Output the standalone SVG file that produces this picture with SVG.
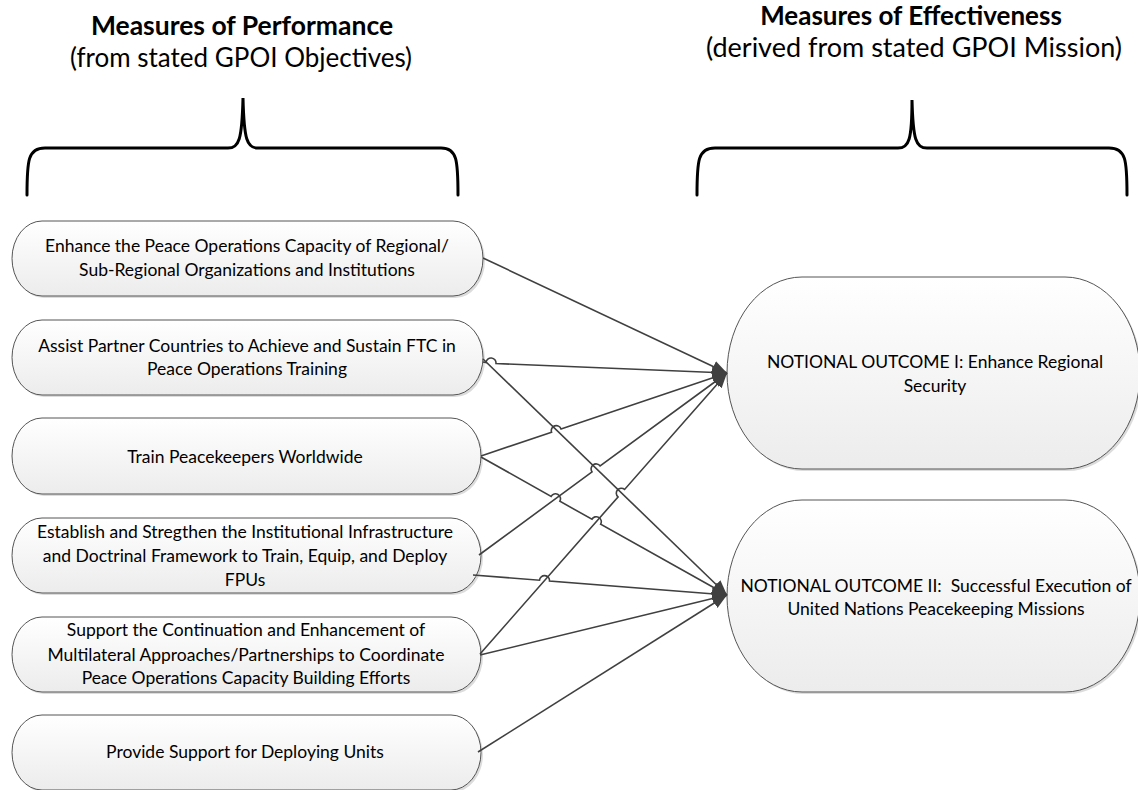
<svg xmlns="http://www.w3.org/2000/svg" width="1138" height="790" viewBox="0 0 1138 790">
<defs>
<linearGradient id="g" x1="0" y1="0" x2="0" y2="1">
<stop offset="0" stop-color="#ffffff"/>
<stop offset="1" stop-color="#ececec"/>
</linearGradient>
<marker id="arr" markerUnits="userSpaceOnUse" markerWidth="16" markerHeight="14" refX="15" refY="7" orient="auto">
<path d="M0,1 L15,7 L0,13 Z" fill="#404040"/>
</marker>
<style>
.node{fill:url(#g);stroke:#555;stroke-width:1}
.shadow{fill:#dcdcdc;stroke:none}
.t{font-family:Lato,"Open Sans",sans-serif;font-size:17.5px;fill:#000;text-anchor:middle}
.h{font-family:Lato,"Open Sans",sans-serif;fill:#000;text-anchor:middle}
.hb{font-weight:bold}
.brace{fill:none;stroke:#000;stroke-width:3;stroke-linecap:round}
.c{fill:none;stroke:#404040;stroke-width:1.6;marker-end:url(#arr)}
</style>
</defs>
<rect width="1138" height="790" fill="#fff"/>

<g id="header-left">
<text class="h hb" x="242" y="35" font-size="26.5">Measures of Performance</text>
<text class="h" x="241" y="67" font-size="26">(from stated GPOI Objectives)</text>
<path class="brace" d="M27,195 C27,160 28,148 45,148 L228,148 C239,148 242,140 243,98 C244,140 247,148 258,148 L441,148 C457,148 458,160 458,195"/>
</g>
<g id="header-right">
<text class="h hb" x="911" y="25" font-size="26">Measures of Effectiveness</text>
<text class="h" x="914" y="57" font-size="27">(derived from stated GPOI Mission)</text>
<path class="brace" d="M697,195 C697,160 698,148 715,148 L898,148 C909,148 912,140 912,100 C913,140 916,148 927,148 L1109,148 C1126,148 1127,160 1127,195"/>
</g>

<g id="n1">
<path class="shadow" d="M44,223 H455 A30,37.5 0 0 1 455,298 H44 A30,37.5 0 0 1 44,223 Z"/>
<path class="node" d="M42,221 H453 A30,37.5 0 0 1 453,296 H42 A30,37.5 0 0 1 42,221 Z"/>
<text class="t" x="247" y="252">Enhance the Peace Operations Capacity of Regional/</text>
<text class="t" x="247" y="276">Sub-Regional Organizations and Institutions</text>
</g>
<g id="n2">
<path class="shadow" d="M44,322 H455 A30,37.5 0 0 1 455,397 H44 A30,37.5 0 0 1 44,322 Z"/>
<path class="node" d="M42,320 H453 A30,37.5 0 0 1 453,395 H42 A30,37.5 0 0 1 42,320 Z"/>
<text class="t" x="247" y="352">Assist Partner Countries to Achieve and Sustain FTC in</text>
<text class="t" x="247" y="375">Peace Operations Training</text>
</g>
<g id="n3">
<path class="shadow" d="M44,420 H453 A30,38 0 0 1 453,496 H44 A30,38 0 0 1 44,420 Z"/>
<path class="node" d="M42,418 H451 A30,38 0 0 1 451,494 H42 A30,38 0 0 1 42,418 Z"/>
<text class="t" x="245" y="463">Train Peacekeepers Worldwide</text>
</g>
<g id="n4">
<path class="shadow" d="M44,520 H453 A30,37.5 0 0 1 453,595 H44 A30,37.5 0 0 1 44,520 Z"/>
<path class="node" d="M42,518 H451 A30,37.5 0 0 1 451,593 H42 A30,37.5 0 0 1 42,518 Z"/>
<text class="t" x="245" y="538">Establish and Stregthen the Institutional Infrastructure</text>
<text class="t" x="245" y="562">and Doctrinal Framework to Train, Equip, and Deploy</text>
<text class="t" x="245" y="586">FPUs</text>
</g>
<g id="n5">
<path class="shadow" d="M44,619 H453 A30,37.5 0 0 1 453,694 H44 A30,37.5 0 0 1 44,619 Z"/>
<path class="node" d="M42,617 H451 A30,37.5 0 0 1 451,692 H42 A30,37.5 0 0 1 42,617 Z"/>
<text class="t" x="246" y="636">Support the Continuation and Enhancement of</text>
<text class="t" x="246" y="661">Multilateral Approaches/Partnerships to Coordinate</text>
<text class="t" x="246" y="684">Peace Operations Capacity Building Efforts</text>
</g>
<g id="n6">
<path class="shadow" d="M44,717 H453 A30,37.5 0 0 1 453,792 H44 A30,37.5 0 0 1 44,717 Z"/>
<path class="node" d="M42,715 H451 A30,37.5 0 0 1 451,790 H42 A30,37.5 0 0 1 42,715 Z"/>
<text class="t" x="245" y="758">Provide Support for Deploying Units</text>
</g>

<g id="outA">
<path class="shadow" d="M804,279 H1067 A75,96 0 0 1 1067,471 H804 A75,96 0 0 1 804,279 Z"/>
<path class="node" d="M802,277 H1065 A75,96 0 0 1 1065,469 H802 A75,96 0 0 1 802,277 Z"/>
<text class="t" x="935" y="368">NOTIONAL OUTCOME I: Enhance Regional</text>
<text class="t" x="935" y="392">Security</text>
</g>
<g id="outB">
<path class="shadow" d="M804,502 H1067 A75,96 0 0 1 1067,694 H804 A75,96 0 0 1 804,502 Z"/>
<path class="node" d="M802,500 H1065 A75,96 0 0 1 1065,692 H802 A75,96 0 0 1 802,500 Z"/>
<text class="t" x="936" y="592" xml:space="preserve">NOTIONAL OUTCOME II:  Successful Execution of</text>
<text class="t" x="936" y="615">United Nations Peacekeeping Missions</text>
</g>

<g id="connectors">
<path class="c" d="M483,258 L727,373"/>
<path class="c" d="M483,362 L486,362.5 A5,5 0 0 1 496,363.5 L727,373"/>
<path class="c" d="M483,359 L727,595"/>
<path class="c" d="M481,456 L551.56,432.2 A5,5 0 0 1 561.04,429 L727,373"/>
<path class="c" d="M481,457 L551.14,496.35 A5,5 0 0 1 559.86,501.25 L591.94,519.25 A5,5 0 0 1 600.66,524.15 L727,595"/>
<path class="c" d="M479,555 L592.07,471.86 A5,5 0 0 1 600.13,465.94 L727,373"/>
<path class="c" d="M473,575 L539.5,580.2 A5,5 0 0 1 549.5,581 L727,595"/>
<path class="c" d="M480,654 L618,496.96 A5,5 0 0 1 624.6,489.44 L727,373"/>
<path class="c" d="M480,655 L727,595"/>
<path class="c" d="M478,752 L727,595"/>
</g>
</svg>
